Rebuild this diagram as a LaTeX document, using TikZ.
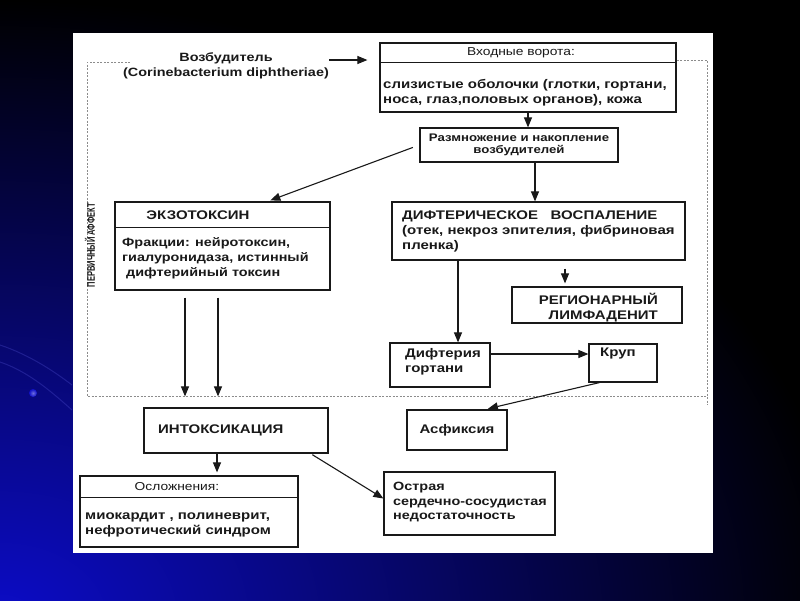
\documentclass[tikz,border=0pt]{standalone}
\usepackage{fontspec}
\setmainfont[FakeStretch=1.2]{Liberation Sans}
\usepackage{graphicx}
\usetikzlibrary{arrows.meta}
\definecolor{slideblue}{RGB}{12,12,200}
\definecolor{ink}{RGB}{25,25,25}
\tikzset{
  box/.style={draw=ink, line width=1.2pt, inner sep=0pt},
  txt/.style={text=ink, font=\bfseries\fontsize{12.5}{15}\selectfont, inner sep=0pt, align=left},
  head/.style={txt, font=\fontsize{11.5}{14}\selectfont},
  arr/.style={draw=ink, line width=1.1pt, -{Triangle[length=10pt,width=8pt]}},
  frame/.style={draw=ink!50, line width=0.8pt, dash pattern=on 2pt off 1.5pt},
}

\begin{document}
\begin{tikzpicture}[x=1pt,y=1pt]
  % slide background
  \fill[black] (0,0) rectangle (800,-600);
  \begin{scope}
    \clip (0,0) rectangle (800,-600);
    \shade[inner color=slideblue, outer color=black] (0,-620) ellipse [x radius=850, y radius=620];
    \draw[slideblue!70!white, opacity=0.3, line width=1pt] (0,-345) .. controls (30,-355) and (55,-372) .. (72,-385);
    \draw[slideblue!70!white, opacity=0.3, line width=1pt] (0,-362) .. controls (30,-372) and (55,-395) .. (72,-410);
    \shade[inner color=slideblue!60!white, outer color=slideblue] (33,-393) circle (4);
  \end{scope}
  \fill[white] (73,-33) rectangle (713,-553);
  \useasboundingbox (0,0) rectangle (800,-600);

  % frame of the primary affect
  \draw[frame] (130,-62) -- (87,-62) -- (87,-396) -- (707,-396);
  \node[text=ink, rotate=90, font=\bfseries\fontsize{11}{11}\selectfont] (affect) at (90,-245)
    {\scalebox{0.57}[1]{ПЕРВИЧНЫЙ АФФЕКТ}};

  % agent and entry
  \node[txt, align=center, font=\bfseries\fontsize{12}{15}\selectfont] (vozb) at (226,-66)
    {Возбудитель\\(Corinebacterium diphtheriae)};
  \node[box, minimum width=296pt, minimum height=69pt] (vorota) at (528,-77.5) {};
  \draw[ink, line width=1.2pt] ([yshift=-20]vorota.north west) -- ([yshift=-20]vorota.north east);
  \node[head] (vorotahead) at (521,-53) {Входные ворота:};
  \node[txt, anchor=west] (vorotabody) at (383,-93)
    {слизистые оболочки (глотки, гортани,\\носа, глаз,половых органов), кожа};
  \draw[frame] (vorota.east |- 0,-60) -- (707,-60) -- (707,-405);
  \draw[arr, shorten >=12pt] (vozb.east |- 0,-60) -- (vorota.west |- 0,-60);

  \node[box, txt, align=center, minimum width=198pt, minimum height=34pt,
    font=\bfseries\fontsize{11}{12.5}\selectfont] (razm) at (519,-145)
    {Размножение и накопление\\возбудителей};
  \draw[arr] (vorota.south) -- (vorota.south |- razm.north);

  % exotoxin branch
  \node[box, minimum width=215pt, minimum height=88pt] (ekzo) at (222.5,-246) {};
  \draw[ink, line width=1.2pt] ([yshift=-26]ekzo.north west) -- ([yshift=-26]ekzo.north east);
  \node[txt] (ekzohead) at (198,-215) {ЭКЗОТОКСИН};
  \node[txt, anchor=west, font=\bfseries\fontsize{12}{15}\selectfont] (ekzobody) at (122,-258)
    {Фракции: нейротоксин,\\гиалуронидаза, истинный\\\ дифтерийный токсин};
  \draw[arr, shorten <=7pt, shorten >=3pt] (razm.west) -- ([xshift=45]ekzo.north);

  % diphtheritic inflammation branch
  \node[box, minimum width=293pt, minimum height=58pt] (difvos) at (538.5,-231) {};
  \node[txt, anchor=west] (difvostext) at (402,-231)
    {ДИФТЕРИЧЕСКОЕ \ \ ВОСПАЛЕНИЕ\\(отек, некроз эпителия, фибриновая\\пленка)};
  \draw[arr] ([xshift=16]razm.south) -- ([xshift=16]razm.south |- difvos.north);

  \node[box, minimum width=170pt, minimum height=36pt] (limf) at (597,-305) {};
  \node[txt, align=right, anchor=east] (limftext) at (658,-308) {РЕГИОНАРНЫЙ\\ЛИМФАДЕНИТ};
  \draw[arr, shorten <=8pt, shorten >=3pt] ([xshift=26.5]difvos.south) -- ([xshift=26.5]difvos.south |- limf.north);

  \node[box, minimum width=100pt, minimum height=44pt] (gort) at (440,-365) {};
  \node[txt, anchor=west] (gorttext) at (405,-362) {Дифтерия\\гортани};
  \draw[arr] ([xshift=-80.5]difvos.south) -- ([xshift=-80.5]difvos.south |- gort.north);

  \node[box, minimum width=68pt, minimum height=38pt] (krup) at (623,-363) {};
  \node[txt, anchor=north] (kruptext) at ([xshift=-5,yshift=-4]krup.north) {Круп};
  \draw[arr] (gort.east |- 0,-354) -- (krup.west |- 0,-354);

  \node[box, txt, minimum width=100pt, minimum height=40pt] (asf) at (457,-430) {Асфиксия};
  \draw[arr, shorten >=3pt] ([xshift=11]krup.south west) -- ([xshift=28]asf.north);

  % intoxication
  \node[box, minimum width=184pt, minimum height=45pt] (intox) at (236,-430.5) {};
  \node[txt, anchor=west] (intoxtext) at (158,-430) {ИНТОКСИКАЦИЯ};
  \foreach \dx in {-37.5,-4.5}
    \draw[arr, shorten <=7pt, shorten >=11pt] ([xshift=\dx]ekzo.south) -- ([xshift=\dx]ekzo.south |- intox.north);

  \node[box, minimum width=218pt, minimum height=71pt] (osl) at (189,-511.5) {};
  \draw[ink, line width=1.2pt] ([yshift=-22]osl.north west) -- ([yshift=-22]osl.north east);
  \node[head] (oslhead) at (177,-487) {Осложнения:};
  \node[txt, anchor=west] (oslbody) at (85,-525)
    {миокардит , полиневрит,\\нефротический синдром};
  \draw[arr, shorten >=3pt] ([xshift=-19]intox.south) -- ([xshift=-19]intox.south |- osl.north);

  \node[box, minimum width=171pt, minimum height=63pt] (ostr) at (469.5,-503.5) {};
  \node[txt, anchor=west, font=\bfseries\fontsize{12}{14.5}\selectfont] (ostrtext) at (393,-502)
    {Острая\\сердечно-сосудистая\\недостаточность};
  \draw[arr, shorten <=2pt] ([xshift=-18]intox.south east) -- ([yshift=5]ostr.west);
\end{tikzpicture}
\end{document}
